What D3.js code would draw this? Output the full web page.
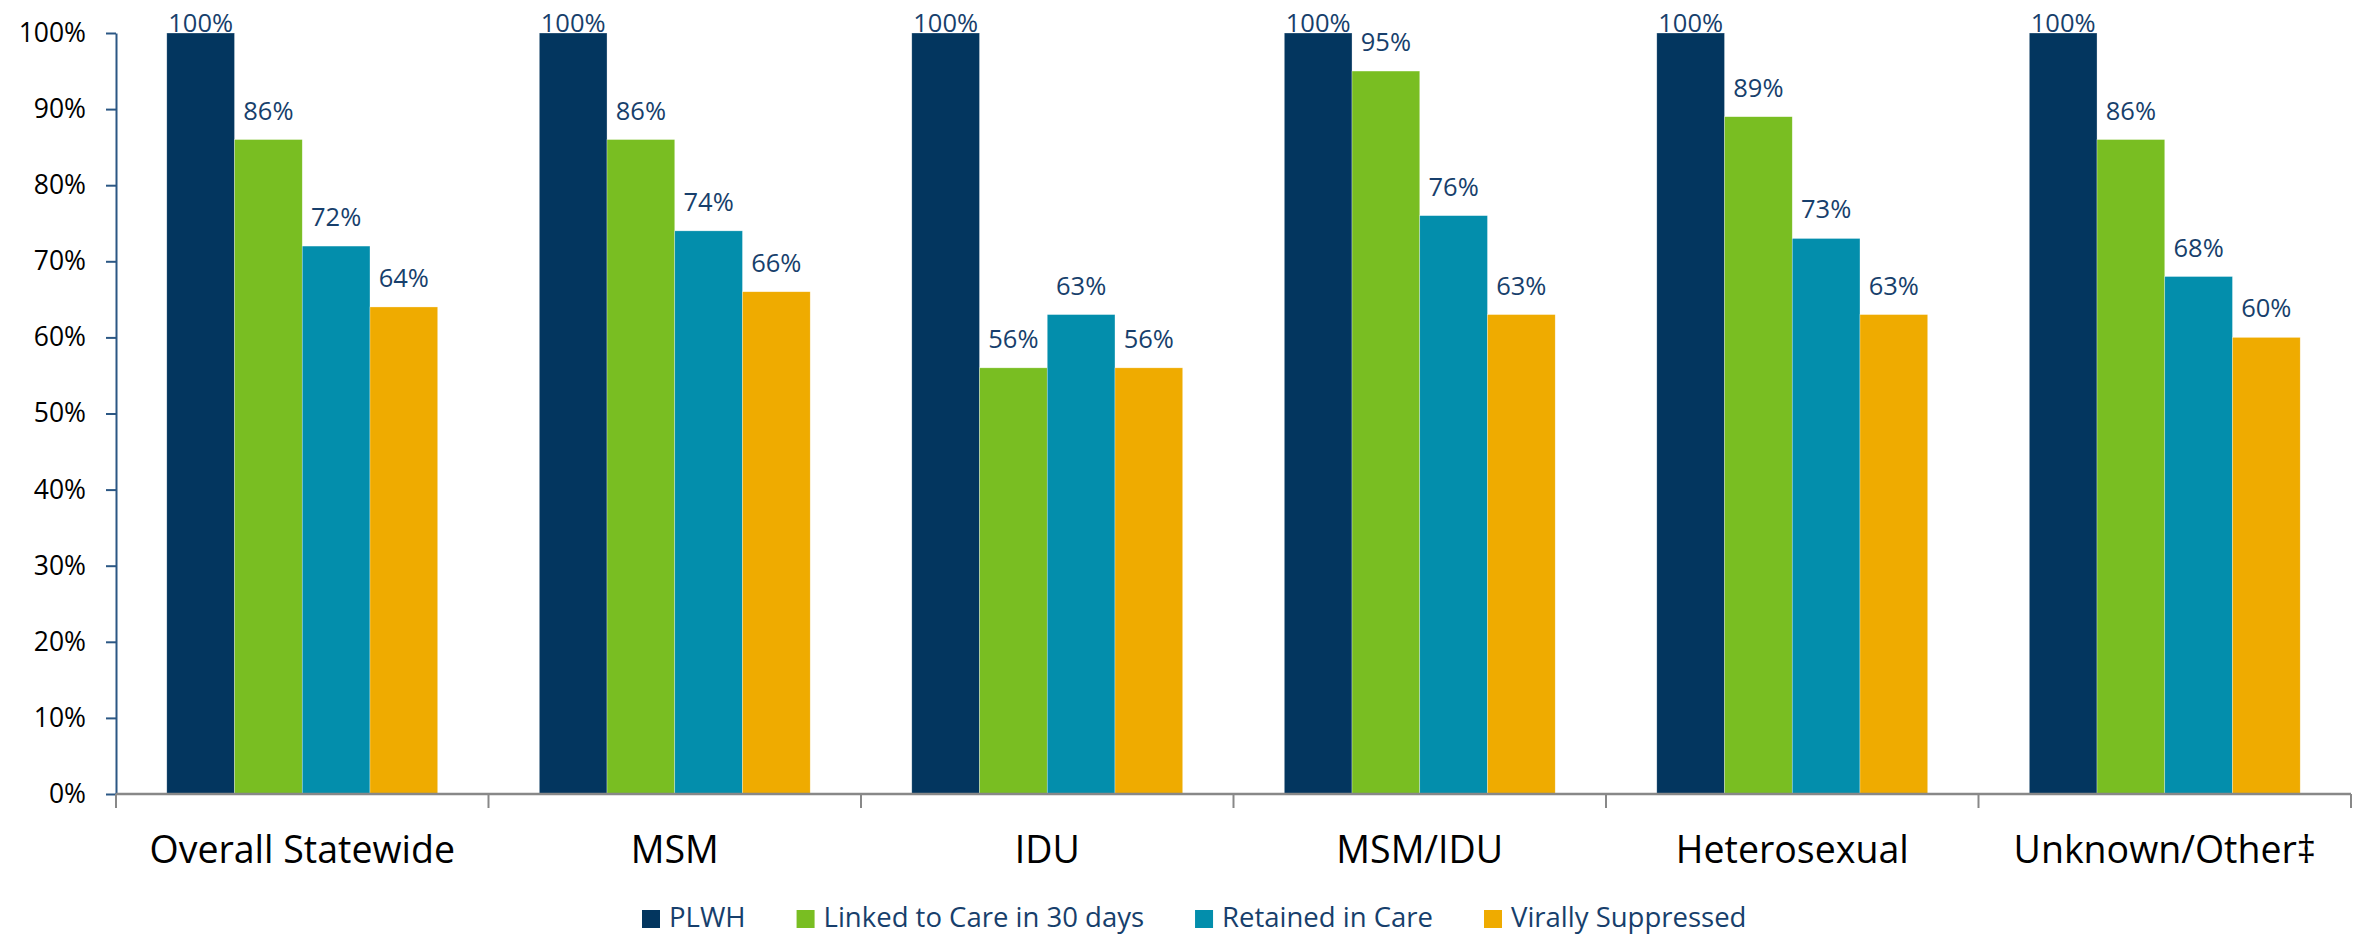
<!DOCTYPE html>
<html lang="en">
<head>
<meta charset="UTF-8">
<title>HIV care continuum by transmission category</title>
<script src="https://d3js.org/d3.v7.min.js"></script>
<style>
  body { margin: 0; background: #fff; }
  svg { display: block; font-family: "Open Sans", sans-serif; }
</style>
</head>
<body>
<svg id="chart" width="2363" height="935"></svg>
<script>
  // data
  var categories = ["Overall Statewide", "MSM", "IDU", "MSM/IDU", "Heterosexual", "Unknown/Other\u2021"];
  var seriesNames = ["PLWH", "Linked to Care in 30 days", "Retained in Care", "Virally Suppressed"];
  var plwh = [100, 100, 100, 100, 100, 100];
  var linked = [86, 86, 56, 95, 89, 86];
  var retained = [72, 74, 63, 76, 73, 68];
  var suppressed = [64, 66, 56, 63, 63, 60];
  var yTicks = [0, 10, 20, 30, 40, 50, 60, 70, 80, 90, 100];
  var colors = ["#03365f", "#79be22", "#038eac", "#efab00"];

  var values = [plwh, linked, retained, suppressed];

  // plot area (note: "top" is taken by window.top, so use other names)
  var plotLeft = 116, plotRight = 2351, plotTop = 33, plotBottom = 794;

  var svg = d3.select("#chart");

  var x0 = d3.scaleBand().domain(categories).range([plotLeft, plotRight]).padding(0);
  var x1 = d3.scaleBand().domain(seriesNames).range([0, x0.bandwidth()])
    .paddingInner(0).paddingOuter(0.75);
  var y = d3.scaleLinear().domain([0, 100]).range([plotBottom, plotTop]);

  // bars
  var groups = svg.append("g").selectAll("g")
    .data(categories)
    .enter().append("g")
    .attr("transform", function (d) { return "translate(" + x0(d) + ",0)"; });

  groups.selectAll("rect")
    .data(function (d, i) {
      return seriesNames.map(function (s, j) { return { s: s, v: values[j][i], j: j }; });
    })
    .enter().append("rect")
    .attr("x", function (d) { return x1(d.s); })
    .attr("y", function (d) { return y(d.v); })
    .attr("width", x1.bandwidth())
    .attr("height", function (d) { return y(0) - y(d.v); })
    .attr("fill", function (d) { return colors[d.j]; })
    .attr("stroke", "#ffffff")
    .attr("stroke-opacity", 0.5)
    .attr("stroke-width", 0.6);

  // value labels (the 100% ones sit on the bar top, the rest a bit above)
  groups.selectAll("text.val")
    .data(function (d, i) {
      return seriesNames.map(function (s, j) { return { s: s, v: values[j][i], j: j }; });
    })
    .enter().append("text")
    .attr("class", "val")
    .attr("x", function (d) { return x1(d.s) + x1.bandwidth() / 2; })
    .attr("y", function (d) { return d.v >= 100 ? y(d.v) - 1 : y(d.v) - 20; })
    .attr("text-anchor", "middle")
    .attr("font-size", "25.5px")
    .attr("fill", "#173f6c")
    .text(function (d) { return d.v + "%"; });

  // y axis
  var yAxis = svg.append("g")
    .attr("transform", "translate(" + plotLeft + ",0)")
    .call(d3.axisLeft(y).tickValues(yTicks).tickSize(10).tickSizeOuter(0).tickPadding(20)
      .tickFormat(function (d) { return d + "%"; }));
  yAxis.select(".domain").attr("stroke", "#2b5784").attr("stroke-width", 2);
  yAxis.selectAll(".tick line").attr("stroke", "#2b5784").attr("stroke-width", 2);
  yAxis.selectAll(".tick text")
    .attr("font-family", "Open Sans")
    .attr("font-size", "26.5px")
    .attr("fill", "#000");

  // x axis: line with tick marks between categories
  var xAxis = svg.append("g");
  xAxis.append("line")
    .attr("x1", plotLeft).attr("x2", plotRight)
    .attr("y1", plotBottom).attr("y2", plotBottom)
    .attr("stroke", "#888888").attr("stroke-width", 2.5);
  var bounds = categories.map(function (c) { return x0(c); }).concat([plotRight]);
  xAxis.selectAll("line.sep")
    .data(bounds)
    .enter().append("line")
    .attr("class", "sep")
    .attr("x1", function (d) { return d; }).attr("x2", function (d) { return d; })
    .attr("y1", plotBottom).attr("y2", plotBottom + 14)
    .attr("stroke", "#888888").attr("stroke-width", 2);
  xAxis.selectAll("text")
    .data(categories)
    .enter().append("text")
    .attr("x", function (d) { return x0(d) + x0.bandwidth() / 2; })
    .attr("y", 863)
    .attr("text-anchor", "middle")
    .attr("font-size", "37.5px")
    .attr("fill", "#000")
    .text(function (d) { return d; });

  // legend
  var legend = svg.append("g").attr("transform", "translate(642,0)");
  var lx = 0;
  seriesNames.forEach(function (s, i) {
    legend.append("rect")
      .attr("x", lx).attr("y", 910)
      .attr("width", 18).attr("height", 18)
      .attr("fill", colors[i]);
    var t = legend.append("text")
      .attr("x", lx + 27).attr("y", 927)
      .attr("font-size", "27.5px")
      .attr("fill", "#173f6c")
      .text(s);
    lx += 27 + t.node().getComputedTextLength() + 51;
  });
</script>
</body>
</html>
